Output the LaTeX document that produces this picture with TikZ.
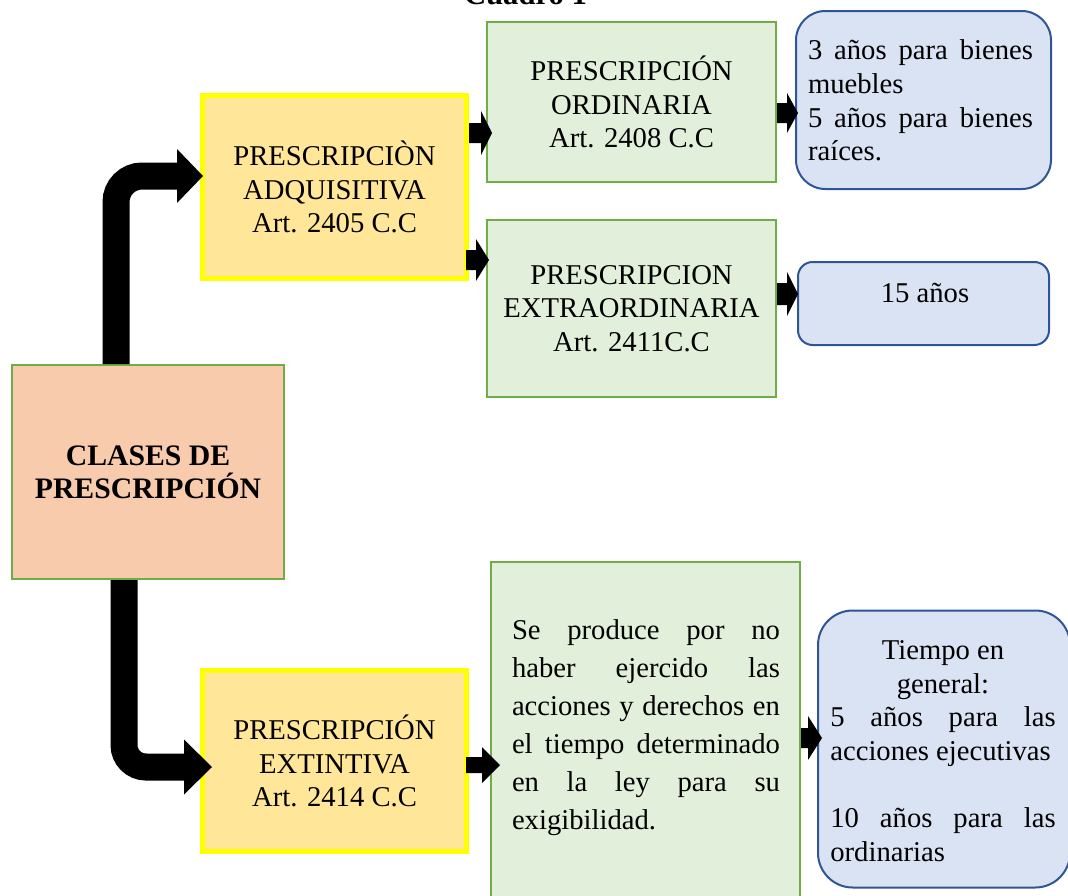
\documentclass[tikz,border=0pt]{standalone}
\usepackage{fontspec}
\setmainfont{Liberation Serif}
\usetikzlibrary{calc}
\definecolor{peach}{HTML}{F8CBAD}
\definecolor{gborder}{HTML}{70AD47}
\definecolor{gfill}{HTML}{E2EFDA}
\definecolor{yfill}{HTML}{FFE699}
\definecolor{yborder}{HTML}{FFFF00}
\definecolor{bfill}{HTML}{DAE3F3}
\definecolor{bborder}{HTML}{2F5597}
% block arrow: start, shaft length, shaft half width, head length, head half width
\newcommand\blockarr[5]{\fill (#1) ++(0,-#3) -- ++(#2,0) -- ++(0,{#3-#5}) -- ++(#4,#5) -- ++(-#4,#5) -- ++(0,{#3-#5}) -- ++(-#2,0) -- cycle;}
\tikzset{
 reg/.style={font=\fontsize{21.5}{25.3}\selectfont},
 mainbox/.style={draw=gborder, fill=peach, line width=1.5pt, minimum width=204pt, minimum height=160.5pt, align=center, font=\fontsize{22.3}{24.75}\selectfont\bfseries, inner sep=0pt},
 yellowbox/.style={draw=yborder, fill=yfill, line width=3.75pt, minimum width=198pt, align=center, reg, inner sep=0pt},
 greenbox/.style={draw=gborder, fill=gfill, line width=1.5pt, minimum width=216.75pt, align=center, reg, inner sep=0pt},
 bluebox/.style={draw=bborder, fill=bfill, line width=1.5pt, inner sep=0pt, reg},
 bent/.style={line width=20.25pt, line cap=butt},
}
\begin{document}
\begin{tikzpicture}[x=0.75pt, y=-0.75pt]
\useasboundingbox (0,0) rectangle (1068,896);
\clip (0,0) rectangle (1068,896);

\node[font=\fontsize{23}{25}\selectfont\bfseries, anchor=base] (title) at (525.5,4) {Cuadro 1};

\node[mainbox] (main) at (148,472) {CLASES DE\\PRESCRIPCIÓN};
\node[yellowbox, minimum height=137.25pt] (adq) at (334.5,187) {PRESCRIPCIÒN\\ADQUISITIVA\\Art. 2405 C.C};
\node[yellowbox, minimum height=135.75pt] (ext) at (334.5,761) {PRESCRIPCIÓN\\EXTINTIVA\\Art. 2414 C.C};
\node[greenbox, minimum height=120pt] (ord) at (631.5,102) {PRESCRIPCIÓN\\ORDINARIA\\Art. 2408 C.C};
\node[greenbox, minimum height=132.75pt] (extr) at (631.5,308.5) {PRESCRIPCION\\EXTRAORDINARIA\\Art. 2411C.C};
\node[greenbox, minimum width=231.75pt, minimum height=253.5pt] (se) at (645.5,731) {};
\node[inner sep=0pt] (setext) at (646,728) {\parbox{201pt}{\fontsize{21.5}{28.5}\selectfont Se produce por no\linebreak haber ejercido las\linebreak acciones y derechos en\linebreak el tiempo determinado\linebreak en la ley para su\linebreak exigibilidad.}};

\node[bluebox, minimum width=191.25pt, minimum height=133.5pt, rounded corners=22pt] (r1) at (923.5,100) {};
\node[inner sep=0pt, reg] (r1t) at (920.5,100.5) {\parbox{168.75pt}{3 años para bienes\linebreak muebles\\5 años para bienes\linebreak raíces.}};
\node[bluebox, minimum width=188.25pt, minimum height=62.25pt, rounded corners=11pt] (r2) at (923.5,303.5) {};
\node[reg, anchor=base, inner sep=0pt] (r2t) at (925,302) {15 años};
\node[bluebox, minimum width=189pt, minimum height=207.75pt, rounded corners=26pt] (r3) at (944,749) {};
\node[inner sep=0pt, reg] (r3t) at (943,751) {\parbox{169pt}{{\centering Tiempo en\\general:\par}5 años para las\linebreak acciones ejecutivas\\[25pt]10 años para las\linebreak ordinarias}};

% bent arrows
\coordinate (ut) at ($(adq.west)+(3,-11)$);
\draw[bent, rounded corners=19.5pt] ($(main.north)+(-32,0)$) |- ($(ut)+(-26,0)$);
\fill (ut) -- ++(-26,-27) -- ++(0,54) -- cycle;
\coordinate (lt) at ($(ext.west)+(12,6)$);
\draw[bent, rounded corners=16.5pt] ($(main.south)+(-24,0)$) |- ($(lt)+(-28,0)$);
\fill (lt) -- ++(-28,-27.5) -- ++(0,55) -- cycle;

% block arrows
\blockarr{$(adq.east)+(0,-54)$}{12}{10}{11}{22}
\blockarr{$(adq.east)+(-3,73)$}{10}{10}{13}{21}
\blockarr{$(ord.east)+(0,11)$}{10}{10}{11}{20}
\blockarr{$(extr.east)+(0,-14.5)$}{10}{11}{11}{22}
\blockarr{$(ext.east)+(-3,4)$}{16}{8}{18}{18}
\blockarr{$(se.east)+(0,7)$}{7}{10}{14}{22}
\end{tikzpicture}
\end{document}
